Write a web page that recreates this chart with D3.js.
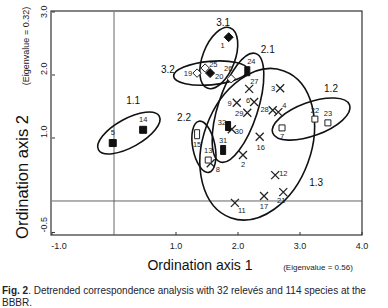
<!DOCTYPE html>
<html>
<head>
<meta charset="utf-8">
<script src="https://cdn.jsdelivr.net/npm/d3@7"></script>
<style>
  body { margin: 0; background: #fff; }
  svg { font-family: "Liberation Sans", Arial, sans-serif; }
</style>
</head>
<body>
<svg id="chart"></svg>
<script>
// relevés: id, axis 1 score, axis 2 score, marker kind
const releveIds = [1, 2, 3, 4, 5, 6, 7, 8, 9, 11, 12, 13, 14, 15, 16, 17, 19, 20, 21, 22, 23, 24, 25, 26, 27, 28, 29, 30, 31, 32];
const axis1 = [1.85, 2.08, 2.68, 2.65, -0.02, 2.26, 2.71, 1.56, 1.98, 1.95, 2.60, 1.52, 0.47, 1.34, 2.35, 2.42, 1.34, 1.55, 2.73, 3.24, 3.45, 2.15, 1.47, 1.89, 2.18, 2.56, 2.15, 1.90, 1.76, 1.84];
const axis2 = [2.60, 0.73, 1.79, 1.41, 0.92, 1.57, 1.16, 0.60, 1.56, -0.03, 0.41, 0.65, 1.13, 1.06, 1.02, 0.08, 2.03, 2.03, 0.14, 1.30, 1.24, 2.06, 2.11, 1.94, 1.78, 1.44, 1.40, 1.14, 0.81, 1.19];
const markerKind = ['dFill', 'x', 'x', 'x', 'sqFill', 'x', 'sqOpen', 'x', 'x', 'x', 'x', 'sqOpen', 'sqFill', 'rectOpen', 'x', 'x', 'dOpen', 'dFill', 'x', 'sqOpen', 'sqOpen', 'rectFill', 'dOpen', 'dOpen', 'x', 'x', 'x', 'x', 'rectFill', 'rectFill'];

// community groups drawn as ellipses (centre, half axes in axis-1 units, tilt)
const groupNames = ['1.1', '1.2', '1.3', '2.1', '2.2', '3.1', '3.2'];
const groupCx = [0.24, 3.18, 2.31, 2.00, 1.45, 1.69, 1.56];
const groupCy = [1.08, 1.30, 0.90, 1.48, 0.86, 2.27, 2.03];
const groupRx = [0.56, 0.66, 1.26, 0.92, 0.42, 0.52, 0.60];
const groupRy = [0.23, 0.27, 0.87, 0.32, 0.18, 0.26, 0.19];
const groupTilt = [-29, -20, -70, -72, 79, -69, -5];
const groupLabelX = [0.31, 3.50, 3.26, 2.48, 1.13, 1.76, 0.87];
const groupLabelY = [1.60, 1.79, 0.29, 2.40, 1.33, 2.84, 2.08];

const xTicks = [-1, 1, 2, 3, 4];
const yTicks = [-0.5, 1, 2, 3];

// label placement around each marker: [dx, dy, anchor]
const labelPos = {
  1: [-6, 11, 'middle'], 2: [0, 12, 'middle'], 3: [-5, 3, 'end'], 4: [4, -4, 'start'],
  5: [0, -8, 'middle'], 6: [-4, 1, 'end'], 7: [0, 11, 'middle'], 8: [5, 9, 'start'],
  9: [-5, 3, 'end'], 11: [3, 10, 'start'], 12: [4, 1, 'start'], 13: [0, -7, 'middle'],
  14: [0, -8, 'middle'], 15: [0, 13, 'middle'], 16: [1, 13, 'middle'], 17: [0, 13, 'middle'],
  19: [-5, 3, 'end'], 20: [5, 6, 'start'], 21: [-2, 11, 'middle'], 22: [0, -6, 'middle'],
  23: [0, -7, 'middle'], 24: [4, -7, 'middle'], 25: [4, -1, 'start'], 26: [-3, -8, 'middle'],
  27: [1, -5, 'start'], 28: [-4, 2, 'end'], 29: [-4, 3, 'end'], 30: [3, 5, 'start'],
  31: [0, -7, 'middle'], 32: [-2, -1, 'end']
};

const W = 388, H = 308;
const svg = d3.select('#chart').attr('width', W).attr('height', H);

const x = d3.scaleLinear().domain([-1, 4]).range([52, 362]);
const y = d3.scaleLinear().domain([-0.54, 3.0]).range([235, 12]);
const pxPerUnit = x(1) - x(0);

// frame
svg.append('rect')
  .attr('x', x(-1) - 1).attr('y', y(3.0) - 1)
  .attr('width', x(4) - x(-1) + 1).attr('height', y(-0.54) - y(3.0) + 1)
  .attr('fill', 'none').attr('stroke', '#333').attr('stroke-width', 1.2);

// zero lines
svg.append('line')
  .attr('x1', x(0)).attr('x2', x(0)).attr('y1', y(3.0)).attr('y2', y(-0.54))
  .attr('stroke', '#555').attr('stroke-width', 0.9);
svg.append('line')
  .attr('x1', x(-1)).attr('x2', x(4)).attr('y1', y(0)).attr('y2', y(0))
  .attr('stroke', '#555').attr('stroke-width', 0.9);

// ticks and tick labels
const xAxis = svg.append('g');
xAxis.selectAll('line').data(xTicks).join('line')
  .attr('x1', d => x(d)).attr('x2', d => x(d))
  .attr('y1', y(-0.54)).attr('y2', y(-0.54) - 3)
  .attr('stroke', '#333');
xAxis.selectAll('text').data(xTicks).join('text')
  .attr('x', d => d === -1 ? x(d) + 7 : x(d))
  .attr('y', 249)
  .attr('text-anchor', 'middle')
  .attr('font-size', 9).attr('fill', '#222')
  .text(d => d.toFixed(1));

const yAxis = svg.append('g');
yAxis.selectAll('line').data(yTicks).join('line')
  .attr('x1', x(-1)).attr('x2', x(-1) + 3)
  .attr('y1', d => y(d)).attr('y2', d => y(d))
  .attr('stroke', '#333');
yAxis.selectAll('text').data(yTicks).join('text')
  .attr('transform', d => `translate(47, ${d === 3 ? y(d) + 6 : y(d)}) rotate(-90)`)
  .attr('text-anchor', 'start')
  .attr('font-size', 9).attr('fill', '#222')
  .text(d => d.toFixed(1));

// axis titles
svg.append('text')
  .attr('transform', 'translate(28, 177) rotate(-90)')
  .attr('text-anchor', 'middle')
  .attr('font-size', 16.5).attr('fill', '#111')
  .text('Ordination axis 2');
svg.append('text')
  .attr('transform', 'translate(29, 46) rotate(-90)')
  .attr('text-anchor', 'middle')
  .attr('font-size', 9).attr('fill', '#222')
  .text('(Eigenvalue = 0.32)');
svg.append('text')
  .attr('x', 200).attr('y', 270)
  .attr('text-anchor', 'middle')
  .attr('font-size', 14).attr('fill', '#111')
  .text('Ordination axis 1');
svg.append('text')
  .attr('x', 318).attr('y', 270)
  .attr('text-anchor', 'middle')
  .attr('font-size', 8).attr('fill', '#222')
  .text('(Eigenvalue = 0.56)');

// group ellipses
const groups = groupNames.map((name, i) => ({
  name, cx: groupCx[i], cy: groupCy[i], rx: groupRx[i], ry: groupRy[i],
  tilt: groupTilt[i], lx: groupLabelX[i], ly: groupLabelY[i]
}));

svg.append('g').selectAll('ellipse').data(groups).join('ellipse')
  .attr('transform', d => `translate(${x(d.cx)}, ${y(d.cy)}) rotate(${d.tilt})`)
  .attr('rx', d => d.rx * pxPerUnit)
  .attr('ry', d => d.ry * pxPerUnit)
  .attr('fill', 'none').attr('stroke', '#111').attr('stroke-width', 1.6);

svg.append('g').selectAll('text').data(groups).join('text')
  .attr('x', d => x(d.lx)).attr('y', d => y(d.ly))
  .attr('dy', '0.35em')
  .attr('text-anchor', 'middle')
  .attr('font-size', 10).attr('fill', '#111')
  .text(d => d.name);

// relevé markers
const releves = releveIds.map((id, i) => ({ id, a1: axis1[i], a2: axis2[i], kind: markerKind[i] }));

const shapes = {
  sqFill: 'M-3.5,-3.5H3.5V3.5H-3.5Z',
  sqOpen: 'M-3,-3H3V3H-3Z',
  rectFill: 'M-2.5,-4.5H2.5V4.5H-2.5Z',
  rectOpen: 'M-2.5,-4.5H2.5V4.5H-2.5Z',
  dFill: 'M0,-4.5L4.5,0L0,4.5L-4.5,0Z',
  dOpen: 'M0,-4.2L4.2,0L0,4.2L-4.2,0Z',
  x: 'M-4,-4L4,4M4,-4L-4,4'
};
const filled = k => k === 'sqFill' || k === 'rectFill' || k === 'dFill';

const marks = svg.append('g').selectAll('g').data(releves).join('g')
  .attr('transform', d => `translate(${x(d.a1)}, ${y(d.a2)})`);

marks.append('path')
  .attr('d', d => shapes[d.kind])
  .attr('fill', d => d.kind === 'x' ? 'none' : filled(d.kind) ? '#111' : '#fff')
  .attr('stroke', d => filled(d.kind) ? '#111' : '#222')
  .attr('stroke-width', d => d.kind === 'x' ? 1.3 : 1);

marks.append('text')
  .attr('x', d => labelPos[d.id][0])
  .attr('y', d => labelPos[d.id][1])
  .attr('text-anchor', d => labelPos[d.id][2])
  .attr('font-size', 7.5).attr('fill', '#222')
  .text(d => d.id);

// caption
const cap = svg.append('text').attr('x', 2).attr('y', 294)
  .attr('font-size', 10).attr('fill', '#22222e');
cap.append('tspan').attr('font-weight', 'bold').text('Fig. 2');
cap.append('tspan').text('. Detrended correspondence analysis with 32 relevés and 114 species at the');
svg.append('text').attr('x', 2).attr('y', 306)
  .attr('font-size', 10).attr('fill', '#22222e')
  .text('BBBR.');
</script>
</body>
</html>
